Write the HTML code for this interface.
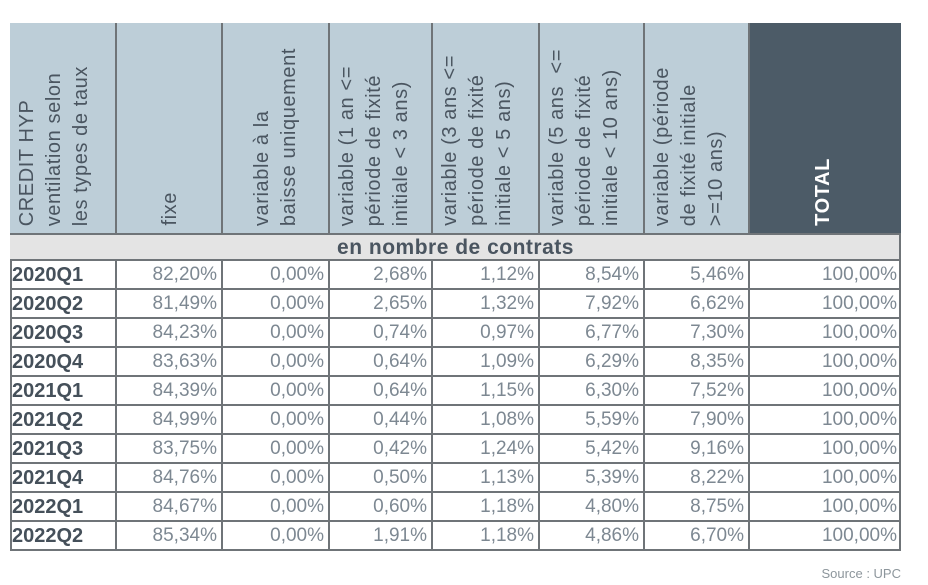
<!DOCTYPE html>
<html><head><meta charset="utf-8"><style>
body{margin:0;width:928px;height:585px;background:#fff;position:relative;overflow:hidden;font-family:"Liberation Sans",sans-serif}
.a{position:absolute;box-sizing:border-box}
.hd{background:#bdced8;border-right:2px solid #6f7478;top:23px;height:210px}
.rot{position:absolute;bottom:7px;writing-mode:vertical-rl;transform:rotate(180deg);font-size:20px;line-height:27px;color:#4a5560;white-space:nowrap;letter-spacing:0.6px}
.sub{left:10px;width:891px;top:233px;height:28px;background:#e4e4e4;border-top:2px solid #6f7478;border-bottom:2px solid #6f7478;text-align:center;font-weight:bold;font-size:21px;color:#4a5560;line-height:25px;letter-spacing:0.5px}
.row{left:10px;width:891px;height:29px;border-bottom:2px solid #6f7478}
.c{position:absolute;top:0;height:27px;line-height:28px;font-size:19px;color:#7d8892;text-align:right;padding-right:4px;box-sizing:border-box;border-right:2px solid #6f7478}
.l{text-align:left;padding-left:2px;font-weight:bold;color:#45505a;font-size:20px}
</style></head><body>
<div class="a hd" style="left:10px;width:107px"><div class="rot" style="left:4px">CREDIT HYP<br>ventilation selon<br>les types de taux</div></div>
<div class="a hd" style="left:117px;width:106px"><div class="rot" style="left:40px">fixe</div></div>
<div class="a hd" style="left:223px;width:107px"><div class="rot" style="left:26px">variable à la<br>baisse uniquement</div></div>
<div class="a hd" style="left:330px;width:103px"><div class="rot" style="left:4px">variable (1 an &lt;=<br>période de fixité<br>initiale &lt; 3 ans)</div></div>
<div class="a hd" style="left:433px;width:107px"><div class="rot" style="left:4px">variable (3 ans &lt;=<br>période de fixité<br>initiale &lt; 5 ans)</div></div>
<div class="a hd" style="left:540px;width:105px"><div class="rot" style="left:4px">variable (5 ans &nbsp;&lt;=<br>période de fixité<br>initiale &lt; 10 ans)</div></div>
<div class="a hd" style="left:645px;width:105px"><div class="rot" style="left:4px">variable (période<br>de fixité initiale<br>&gt;=10 ans)</div></div>
<div class="a hd" style="left:750px;width:151px;background:#4c5b67;border-right:none"><div class="rot" style="left:60px;color:#fff;font-weight:bold">TOTAL</div></div>
<div class="a sub">en nombre de contrats</div>
<div id="rows"></div>
<div class="a" style="left:10px;top:261px;width:2px;height:290px;background:#6f7478"></div>
<div class="a" style="left:899px;top:233px;width:2px;height:318px;background:#6f7478"></div>
<div class="a" style="right:27px;top:566px;font-size:13px;color:#8d969c">Source : UPC</div>
<script>
var d=[["2020Q1","82,20%","0,00%","2,68%","1,12%","8,54%","5,46%"],["2020Q2","81,49%","0,00%","2,65%","1,32%","7,92%","6,62%"],["2020Q3","84,23%","0,00%","0,74%","0,97%","6,77%","7,30%"],["2020Q4","83,63%","0,00%","0,64%","1,09%","6,29%","8,35%"],["2021Q1","84,39%","0,00%","0,64%","1,15%","6,30%","7,52%"],["2021Q2","84,99%","0,00%","0,44%","1,08%","5,59%","7,90%"],["2021Q3","83,75%","0,00%","0,42%","1,24%","5,42%","9,16%"],["2021Q4","84,76%","0,00%","0,50%","1,13%","5,39%","8,22%"],["2022Q1","84,67%","0,00%","0,60%","1,18%","4,80%","8,75%"],["2022Q2","85,34%","0,00%","1,91%","1,18%","4,86%","6,70%"]];
var xs=[0,107,213,320,423,530,635,740,891],h="";
d.forEach(function(r,i){r=r.concat(["100,00%"]);h+='<div class="a row" style="top:'+(261+i*29)+'px">';
r.forEach(function(v,j){h+='<div class="c'+(j==0?' l':'')+'" style="left:'+xs[j]+'px;width:'+(xs[j+1]-xs[j])+'px;'+(j==7?'border-right:none;':'')+'">'+v+'</div>'});h+='</div>'});
document.getElementById("rows").innerHTML=h;
</script>
</body></html>
